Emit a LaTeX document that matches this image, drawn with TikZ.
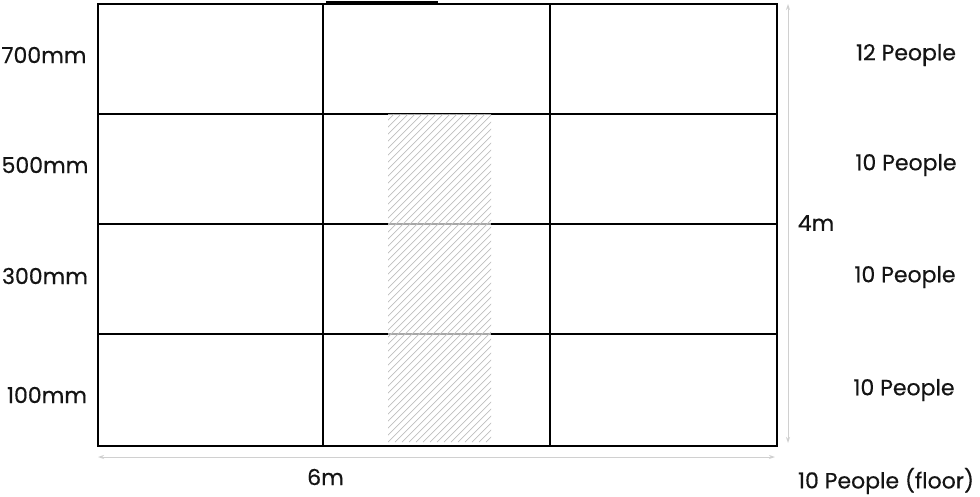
\documentclass[tikz,border=0pt]{standalone}
\usepackage{fontspec}
\setmainfont{Poppins}
\newfontfamily\lblfont{Poppins}[FakeBold=0.5]
\usetikzlibrary{arrows.meta}
\definecolor{dimgrey}{HTML}{D0D0D0}
\definecolor{hatchgrey}{HTML}{BEBEBE}
\tikzset{
  grid/.style={line width=2.2pt, black},
  dimline/.style={line width=0.9pt, dimgrey, {Stealth[length=6pt,width=4pt]}-{Stealth[length=6pt,width=4pt]}},
  lbl/.style={font=\lblfont\fontsize{22}{26}\selectfont, inner sep=0pt, text=black!92},
  hatchline/.style={line width=0.7pt, hatchgrey},
}
\begin{document}
\begin{tikzpicture}[x=1pt,y=-1pt]
\useasboundingbox (0,0) rectangle (980,496);
% grid
\draw[grid] (98,4) rectangle (777,446);
\foreach \yy in {114,224,334} \draw[grid] (98,\yy) -- (777,\yy);
\draw[grid] (323,4) -- (323,446);
\draw[grid] (550,4) -- (550,446);
\draw[line width=2.8pt] (323,446) -- (550,446);
\draw[line width=2pt] (326,2) -- (438,2);
% hatched zone
\fill[white, opacity=0.65] (388,114) rectangle (491,442);
\begin{scope}
\clip (388,114) rectangle (491,442);
\foreach \k in {-343,-336,...,110} \draw[hatchline] (388+\k,442) -- ++(340,-340);
\end{scope}
% dimensions
\coordinate (vt) at (788,4);
\coordinate (vb) at (788,443);
\draw[dimline] (vt) -- (vb);
\coordinate (hl) at (98,457);
\coordinate (hr) at (775,457);
\draw[dimline] (hl) -- (hr);
\node[lbl] (w) at (325.5,477) {6m};
\node[lbl] (h) at (816,223) {4m};
% left labels
\node[lbl] (l700) at (44,55) {700mm};
\node[lbl] (l500) at (45,165) {500mm};
\node[lbl] (l300) at (45,276) {300mm};
\node[lbl] (l100) at (47,395) {100mm};
% right labels
\node[lbl] (r1) at (906,55) {12 People};
\node[lbl] (r2) at (906,165) {10 People};
\node[lbl] (r3) at (905,277) {10 People};
\node[lbl] (r4) at (904,390) {10 People};
\node[lbl] (r5) at (886,481) {10 People (floor)};
\end{tikzpicture}
\end{document}
